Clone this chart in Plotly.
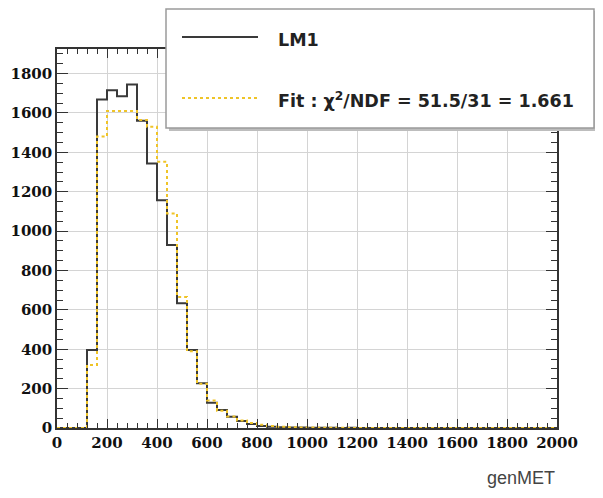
import plotly.graph_objects as go

# ---- data (bin width 40, 0..2000) ----
bin_lo = 0
bin_width = 40
n_bins = 50
lm1_counts = [0, 0, 0, 396, 1668, 1716, 1685, 1745, 1560, 1343,
              1157, 929, 633, 396, 227, 128, 91, 57, 36, 20,
              10, 6, 4, 3, 2, 1, 1, 1, 0, 1,
              0, 0, 0, 0, 0, 0, 0, 0, 0, 0,
              0, 0, 0, 0, 0, 0, 0, 0, 0, 0]
fit_counts = [0, 0, 0, 320, 1480, 1610, 1610, 1610, 1565, 1530,
              1352, 1090, 666, 390, 225, 140, 88, 58, 38, 25,
              16, 10, 6, 4, 3, 2, 1, 1, 1, 0,
              0, 0, 0, 0, 0, 0, 0, 0, 0, 0,
              0, 0, 0, 0, 0, 0, 0, 0, 0, 0]
x_ticks = [0, 200, 400, 600, 800, 1000, 1200, 1400, 1600, 1800, 2000]
y_ticks = [0, 200, 400, 600, 800, 1000, 1200, 1400, 1600, 1800]
legend_labels = ["LM1", "Fit : \u03c7<sup>2</sup>/NDF = 51.5/31 = 1.661"]
x_title = "genMET"

edges = [bin_lo + i * bin_width for i in range(n_bins + 1)]

BLACK = "#3a3a3a"
GOLD = "#efc428"

fig = go.Figure()
fig.add_trace(go.Scatter(x=edges, y=lm1_counts + [lm1_counts[-1]], mode="lines",
                         line=dict(shape="hv", color=BLACK, width=2), showlegend=False,
                         hoverinfo="skip"))
fig.add_trace(go.Scatter(x=edges, y=fit_counts + [fit_counts[-1]], mode="lines",
                         line=dict(shape="hv", color=GOLD, width=2, dash="dot"), showlegend=False,
                         hoverinfo="skip"))

tickfont = dict(family="DejaVu Serif", size=15, color="#111", weight="bold")
axis_common = dict(showline=True, linecolor="#333", linewidth=1.5, mirror="ticks",
                   ticks="inside", tickcolor="#333", tickwidth=1,
                   showgrid=True, gridcolor="#d4d4d4", gridwidth=1,
                   zeroline=False, tickfont=tickfont, automargin=False)

fig.update_xaxes(range=[0, 2000], tickvals=x_ticks, ticklen=9,
                 minor=dict(dtick=40, ticks="inside", ticklen=5, tickcolor="#333", showgrid=False),
                 **axis_common)
fig.update_yaxes(range=[0, 1925], tickvals=y_ticks, ticklen=11,
                 minor=dict(dtick=50, ticks="inside", ticklen=6, tickcolor="#333", showgrid=False),
                 **axis_common)

# legend box (drawn manually, ROOT style); coordinates are reference-page pixels
W, L, T, H = 500.0, 57.0, 49.0, 379.0
def px(x): return (x - L) / W
def py(y): return (T + H - y) / H

shapes = [
    dict(type="rect", xref="paper", yref="paper", x0=px(169), x1=px(597), y0=py(131), y1=py(11),
         fillcolor="#bdbdbd", line=dict(width=0), layer="above"),
    dict(type="rect", xref="paper", yref="paper", x0=px(166), x1=px(594), y0=py(128), y1=py(9),
         fillcolor="white", line=dict(color="#9a9a9a", width=1.5), layer="above"),
    dict(type="line", xref="paper", yref="paper", x0=px(182), x1=px(258), y0=py(37), y1=py(37),
         line=dict(color=BLACK, width=2), layer="above"),
    dict(type="line", xref="paper", yref="paper", x0=px(182), x1=px(258), y0=py(98), y1=py(98),
         line=dict(color=GOLD, width=2, dash="dot"), layer="above"),
]
legfont = dict(family="DejaVu Sans", size=17.5, color="#222", weight="bold")
annotations = [
    dict(xref="paper", yref="paper", x=px(276), y=py(40), text=legend_labels[0], showarrow=False,
         xanchor="left", yanchor="middle", font=legfont),
    dict(xref="paper", yref="paper", x=px(276), y=py(100), text=legend_labels[1], showarrow=False,
         xanchor="left", yanchor="middle", font=legfont),
    dict(xref="paper", yref="paper", x=1.0, y=py(478), text=x_title, showarrow=False,
         xanchor="right", yanchor="middle", font=dict(family="Liberation Sans", size=18, color="#444")),
]

# page body has an 8px margin: plot area placed so it lands at x 57..557, y 49..428 on the page;
# figure kept small enough that the page does not overflow the window
fig.update_layout(width=587, height=482, margin=dict(l=49, r=38, t=41, b=62, pad=0),
                  paper_bgcolor="white", plot_bgcolor="white",
                  shapes=shapes, annotations=annotations, showlegend=False)

fig.write_html("out.html")
